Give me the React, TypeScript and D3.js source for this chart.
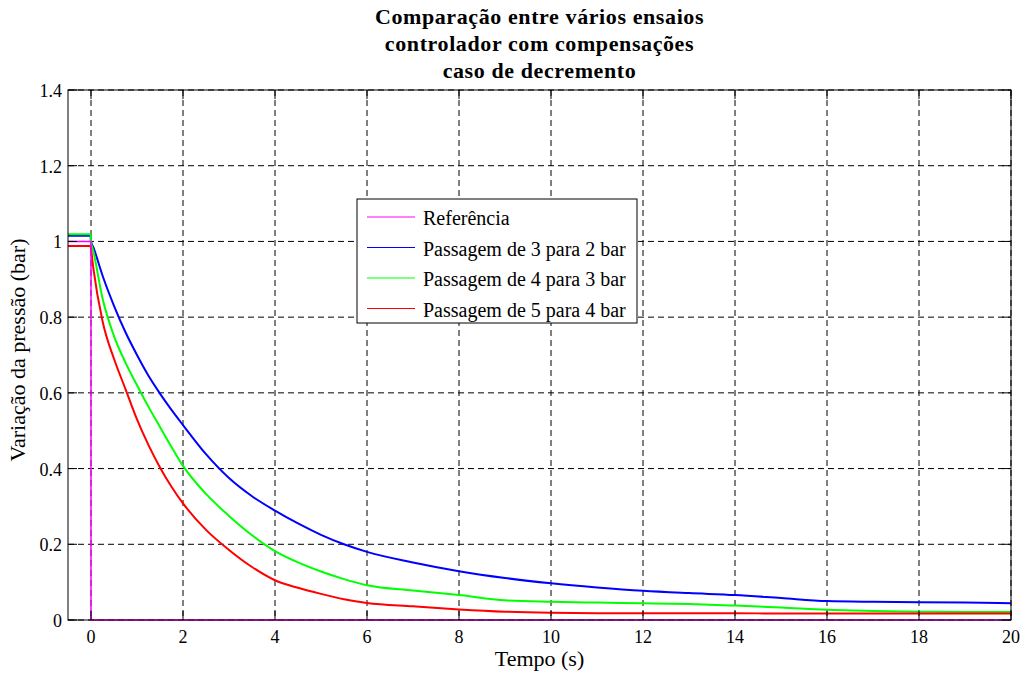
import React from "react";
import * as d3 from "d3";

// sample times (s) shared by the three measured series
const tempos = [-0.5, -0.01, 0, 0.05, 0.25, 0.5, 0.75, 1, 1.25, 1.5, 1.75, 2, 2.5, 3, 3.5, 4, 4.5, 5, 5.5, 6, 7, 8, 9, 10, 11, 12, 13, 14, 15, 16, 17, 18, 19, 20];

const passagem3para2 = [1.015, 1.015, 1.0, 0.985, 0.91, 0.83, 0.76, 0.7, 0.645, 0.598, 0.555, 0.515, 0.438, 0.375, 0.327, 0.289, 0.255, 0.225, 0.2, 0.18, 0.152, 0.129, 0.111, 0.097, 0.086, 0.077, 0.071, 0.066, 0.058, 0.05, 0.048, 0.047, 0.046, 0.044];
const passagem4para3 = [1.019, 1.019, 1.0, 0.975, 0.85, 0.75, 0.68, 0.62, 0.563, 0.51, 0.457, 0.407, 0.333, 0.275, 0.224, 0.182, 0.152, 0.128, 0.108, 0.092, 0.078, 0.066, 0.052, 0.048, 0.046, 0.044, 0.042, 0.038, 0.033, 0.027, 0.024, 0.022, 0.021, 0.021];
const passagem5para4 = [0.988, 0.988, 0.98, 0.93, 0.79, 0.69, 0.61, 0.53, 0.462, 0.403, 0.352, 0.308, 0.238, 0.185, 0.14, 0.105, 0.085, 0.069, 0.055, 0.045, 0.036, 0.028, 0.022, 0.019, 0.018, 0.018, 0.018, 0.018, 0.017, 0.017, 0.017, 0.017, 0.017, 0.017];

// reference step
const refTempos = [-0.5, 0, 0, 20];
const refValores = [1, 1, 0, 0];

const xTicks = [0, 2, 4, 6, 8, 10, 12, 14, 16, 18, 20];
const yTicks = [0, 0.2, 0.4, 0.6, 0.8, 1, 1.2, 1.4];

const titulo = ["Comparação entre vários ensaios", "controlador com compensações", "caso de decremento"];
const legendas = ["Referência", "Passagem de 3 para 2 bar", "Passagem de 4 para 3 bar", "Passagem de 5 para 4 bar"];
const cores = ["#ff00ff", "#0000ff", "#00ff00", "#ff0000"];

const W = 1023;
const H = 673;
const left = 68, right = 1011, top = 90, bottom = 620;
const font = "Liberation Serif, DejaVu Serif";

export default function App() {
  const x = d3.scaleLinear().domain([-0.5, 20]).range([left, right]);
  const y = d3.scaleLinear().domain([0, 1.4]).range([bottom, top]);

  const stepLine = d3
    .line<[number, number]>()
    .x(d => x(d[0]))
    .y(d => y(d[1]));
  const smoothLine = d3
    .line<[number, number]>()
    .x(d => x(d[0]))
    .y(d => y(d[1]))
    .curve(d3.curveMonotoneX);

  const medidas = [passagem3para2, passagem4para3, passagem5para4].map(v =>
    tempos.map((t, i) => [t, v[i]] as [number, number])
  );
  const referencia = refTempos.map((t, i) => [t, refValores[i]] as [number, number]);

  // legend box
  const lx = 357, ly = 199, lw = 280, lh = 124;

  return (
    <svg width={W} height={H} style={{ position: "absolute", left: 0, top: 0, background: "#fff" }} fontFamily={font}>
      <rect x={0} y={0} width={W} height={H} fill="#fff" />

      {/* grid */}
      {xTicks.map(t => (
        <line key={"gx" + t} x1={x(t)} x2={x(t)} y1={top} y2={bottom} stroke="#000" strokeWidth={1} strokeDasharray="6,4" />
      ))}
      {yTicks.map(t => (
        <line key={"gy" + t} x1={left} x2={right} y1={y(t)} y2={y(t)} stroke="#000" strokeWidth={1} strokeDasharray="6,4" />
      ))}

      {/* data */}
      {medidas.map((s, i) => (
        <path key={"s" + i} d={smoothLine(s) || ""} fill="none" stroke={cores[i + 1]} strokeWidth={2} strokeLinejoin="round" />
      ))}
      <path d={stepLine(referencia) || ""} fill="none" stroke={cores[0]} strokeWidth={1.5} />

      {/* axes box and inward ticks */}
      <rect x={left} y={top} width={right - left} height={bottom - top} fill="none" stroke="#000" strokeWidth={1} />
      {xTicks.map(t => (
        <g key={"tx" + t}>
          <line x1={x(t)} x2={x(t)} y1={bottom} y2={bottom - 9} stroke="#000" />
          <line x1={x(t)} x2={x(t)} y1={top} y2={top + 9} stroke="#000" />
          <text x={x(t)} y={bottom + 23} textAnchor="middle" fontSize={18}>{t}</text>
        </g>
      ))}
      {yTicks.map(t => (
        <g key={"ty" + t}>
          <line x1={left} x2={left + 9} y1={y(t)} y2={y(t)} stroke="#000" />
          <line x1={right} x2={right - 9} y1={y(t)} y2={y(t)} stroke="#000" />
          <text x={left - 6} y={y(t) + 7} textAnchor="end" fontSize={18}>{d3.format("~g")(t)}</text>
        </g>
      ))}

      {/* titles */}
      {titulo.map((s, i) => (
        <text key={"t" + i} x={(left + right) / 2} y={24 + i * 27} textAnchor="middle" fontSize={22} fontWeight="bold" letterSpacing={0.6}>{s}</text>
      ))}
      <text x={(left + right) / 2} y={666} textAnchor="middle" fontSize={22}>Tempo (s)</text>
      <text transform={`translate(25, 350) rotate(-90)`} textAnchor="middle" fontSize={22}>Variação da pressão (bar)</text>

      {/* legend */}
      <rect x={lx} y={ly} width={lw} height={lh} fill="#fff" stroke="#000" strokeWidth={1} />
      {legendas.map((s, i) => (
        <g key={"l" + i}>
          <line x1={lx + 10} x2={lx + 58} y1={ly + 18 + i * 30.5} y2={ly + 18 + i * 30.5} stroke={cores[i]} strokeWidth={1} />
          <text x={lx + 66} y={ly + 26 + i * 30.5} fontSize={20}>{s}</text>
        </g>
      ))}
    </svg>
  );
}
